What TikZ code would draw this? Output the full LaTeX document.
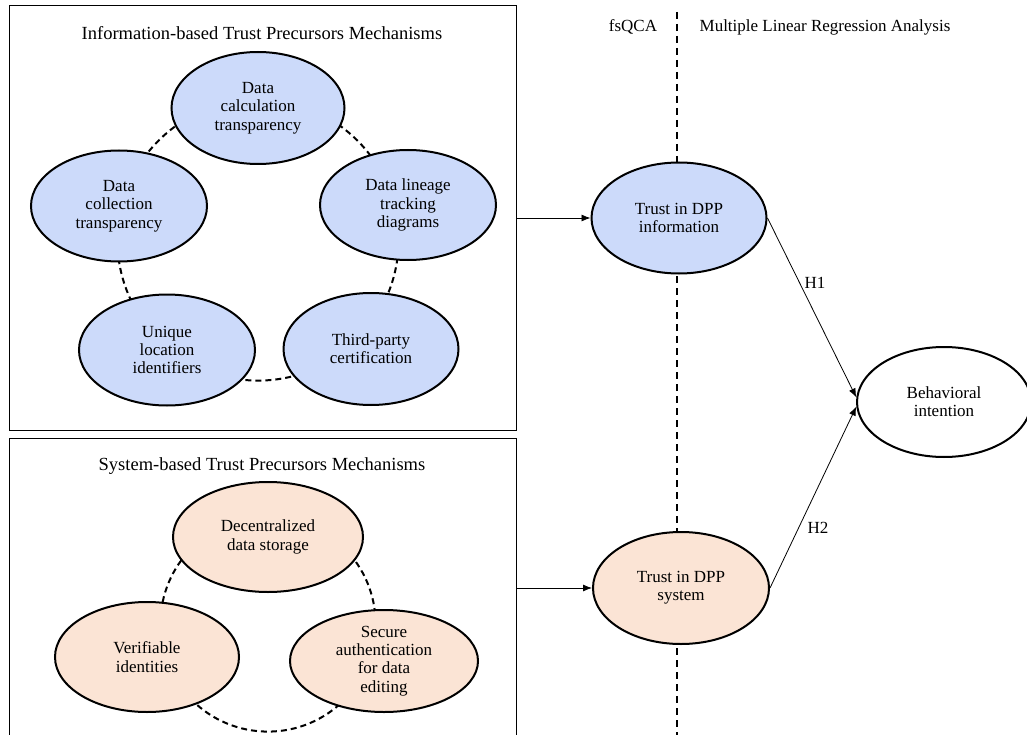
\documentclass[tikz,border=0pt]{standalone}
\usepackage{fontspec}
\setmainfont{Liberation Serif}
\usetikzlibrary{shapes.geometric,arrows.meta}
\definecolor{blueF}{RGB}{204,218,250}
\definecolor{orangeF}{RGB}{251,228,213}
\tikzset{
  el/.style={ellipse, draw=black, line width=2pt, inner sep=0pt, align=center,
             font=\fontsize{17}{18.3}\selectfont},
  boxframe/.style={draw=black, line width=1.3pt, inner sep=0pt, anchor=north west},
  ring/.style={draw=black, line width=2pt, dash pattern=on 6pt off 4pt},
  divider/.style={draw=black, line width=1.5pt, dash pattern=on 7pt off 5pt},
  arr/.style={draw=black, line width=0.8pt, -{Latex[length=9pt,width=7pt]}},
  plain/.style={inner sep=0pt, font=\fontsize{17}{18.3}\selectfont},
  ttl/.style={inner sep=0pt, font=\fontsize{18.5}{20}\selectfont}
}
\begin{document}
\begin{tikzpicture}[x=1pt,y=-1pt]
\useasboundingbox (0,0) rectangle (1027,735);
\clip (0,0) rectangle (1027,735);
\fill[white] (0,0) rectangle (1027,735);

% frames
\node[boxframe, minimum width=507pt, minimum height=425pt] (topbox) at (9,5) {};
\node[boxframe, minimum width=507pt, minimum height=320pt] (botbox) at (9,438) {};

% titles
\node[ttl] (ttop) at (262,33) {Information-based Trust Precursors Mechanisms};
\node[ttl] (tbot) at (262,466) {System-based Trust Precursors Mechanisms};

% divider
\coordinate (dtop) at (677,12);
\coordinate (dbot) at (677,740);
\draw[divider] (dtop) -- (dbot);
\node[plain] (fsqca) at (633,27) {fsQCA};
\node[plain] (mlra) at (825,27) {Multiple Linear Regression Analysis};

% dashed rings
\coordinate (ringA) at (258,240);
\coordinate (ringB) at (268,624);
\draw[ring] (ringA) circle[radius=140.6pt];
\draw[ring] (ringB) circle[radius=107.6pt];

% information-based
\node[el, fill=blueF, minimum width=173pt, minimum height=112pt] (calc) at (258,108) {Data\\calculation\\transparency};
\node[el, fill=blueF, minimum width=176pt, minimum height=111pt] (coll) at (119,206) {Data\\collection\\transparency};
\node[el, fill=blueF, minimum width=176pt, minimum height=110pt] (lin) at (408,205) {Data lineage\\tracking\\diagrams};
\node[el, fill=blueF, minimum width=176pt, minimum height=111pt] (uniq) at (167,350) {Unique\\location\\identifiers};
\node[el, fill=blueF, minimum width=175pt, minimum height=112pt] (third) at (371,349) {Third-party\\certification};

% system-based
\node[el, fill=orangeF, minimum width=190pt, minimum height=110pt] (dec) at (268,537) {Decentralized\\data storage};
\node[el, fill=orangeF, minimum width=184pt, minimum height=110pt] (ver) at (147,657) {Verifiable\\identities};
\node[el, fill=orangeF, minimum width=188pt, minimum height=102pt] (sec) at (384,661) {Secure\\authentication\\for data\\editing};

% right side
\node[el, fill=blueF, minimum width=175pt, minimum height=111pt] (info) at (679,218) {Trust in DPP\\information};
\node[el, fill=orangeF, minimum width=176pt, minimum height=112pt] (sys) at (681,588) {Trust in DPP\\system};
\node[el, fill=white, minimum width=174pt, minimum height=110pt] (beh) at (944,402) {Behavioral\\intention};

\draw[arr] (topbox.east |- info.west) -- (info.west);
\draw[arr] (botbox.east |- sys.west) -- (sys.west);
\draw[arr] (info.east) -- (beh.177);
\draw[arr] (sys.east) -- (beh.183);

\node[plain] (h1) at (815,283) {H1};
\node[plain] (h2) at (818,528) {H2};
\end{tikzpicture}
\end{document}
